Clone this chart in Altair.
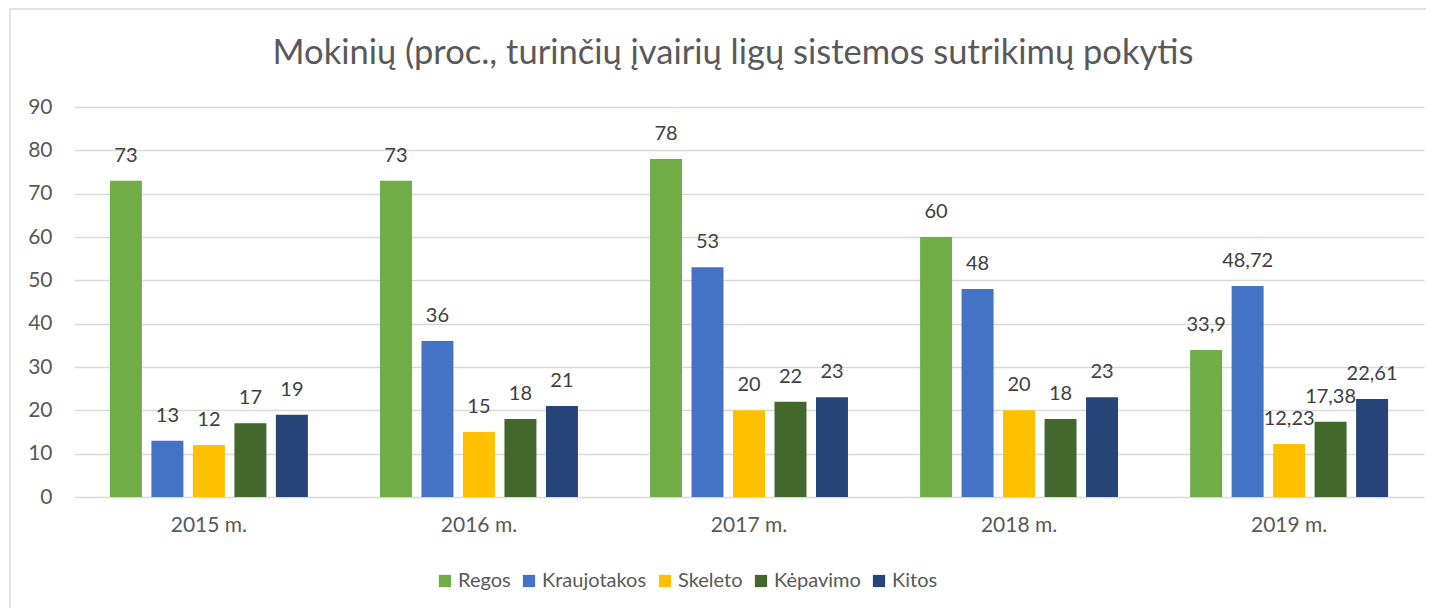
import altair as alt
import pandas as pd

years = ["2015 m.", "2016 m.", "2017 m.", "2018 m.", "2019 m."]
series = ["Regos", "Kraujotakos", "Skeleto", "Kėpavimo", "Kitos"]
colors = ["#70AD47", "#4472C4", "#FFC000", "#43682B", "#264478"]

regos = [73, 73, 78, 60, 33.9]
kraujotakos = [13, 36, 53, 48, 48.72]
skeleto = [12, 15, 20, 20, 12.23]
kepavimo = [17, 18, 22, 18, 17.38]
kitos = [19, 21, 23, 23, 22.61]

y_ticks = [0, 10, 20, 30, 40, 50, 60, 70, 80, 90]

FONT = "Lato"

rows = []
for s, vals in zip(series, [regos, kraujotakos, skeleto, kepavimo, kitos]):
    for yr, v in zip(years, vals):
        rows.append({"year": yr, "series": s, "value": v,
                     "label": (f"{v:g}").replace(".", ",")})
df = pd.DataFrame(rows)

x_enc = alt.X("year:N", sort=years,
              scale=alt.Scale(paddingInner=0.267, paddingOuter=0.133),
              axis=alt.Axis(title=None, labelAngle=0, ticks=False, domain=False,
                            labelPadding=17, labelFontSize=21, labelColor="#595959",
                            labelFont=FONT))
xoff = alt.XOffset("series:N", sort=series,
                   scale=alt.Scale(paddingInner=0.229, paddingOuter=0))
y_enc = alt.Y("value:Q",
              scale=alt.Scale(domain=[0, 90], nice=False),
              axis=alt.Axis(title=None, values=y_ticks, ticks=False, domain=False,
                            labelPadding=22, labelFontSize=21, labelColor="#595959",
                            labelFont=FONT, gridColor="#d9d9d9", gridWidth=1.5))

base = alt.Chart(df)

bars = base.mark_bar().encode(
    x=x_enc, xOffset=xoff, y=y_enc,
    color=alt.Color("series:N", sort=series,
                    scale=alt.Scale(domain=series, range=colors),
                    legend=alt.Legend(title=None, orient="none", direction="horizontal",
                                      legendX=361, legendY=464, symbolType="square",
                                      symbolSize=150, symbolStrokeWidth=0,
                                      labelFontSize=20, labelColor="#595959",
                                      labelFont=FONT, columnPadding=8, labelOffset=3)),
)

labels = base.mark_text(baseline="bottom", dy=-15, fontSize=20, color="#404040",
                        font=FONT).encode(
    x=alt.X("year:N", sort=years), xOffset=alt.XOffset("series:N", sort=series),
    y="value:Q", text="label:N")

border = alt.Chart(pd.DataFrame({"a": [0]})).mark_rect(
    fill=None, stroke="#d9d9d9", strokeWidth=1.5).encode(
    x=alt.value(-64), x2=alt.value(1600), y=alt.value(-98), y2=alt.value(800))

chart = alt.layer(border, bars, labels).properties(
    width=1350, height=390,
    autosize=alt.AutoSizeParams(type="none"),
    padding={"left": 66, "top": 99, "right": 2, "bottom": 111},
    title=alt.TitleParams("Mokinių (proc., turinčių įvairių ligų sistemos sutrikimų pokytis",
                          fontSize=34.5, font=FONT, color="#595959", fontWeight="normal",
                          anchor="middle", dx=-16, offset=-63),
).configure_view(stroke=None)

chart.save("out.html", embed_options={"renderer": "svg", "actions": False})
